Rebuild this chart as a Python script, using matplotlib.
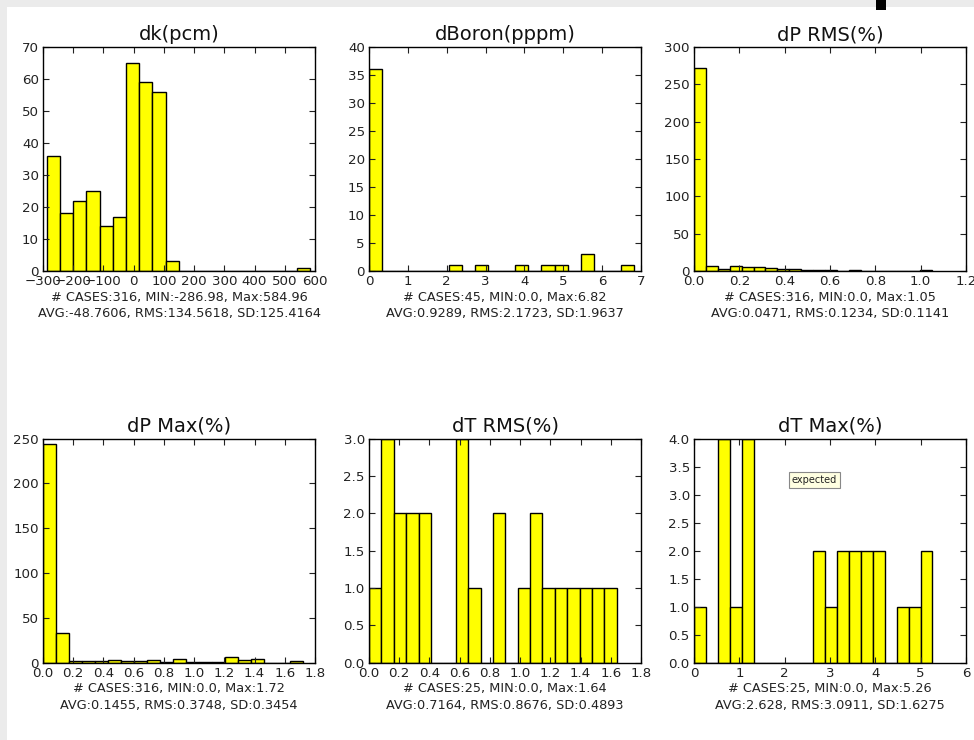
import numpy as np
import matplotlib
matplotlib.use("Agg")
import matplotlib.pyplot as plt
from matplotlib.patches import Rectangle

plt.rcParams['font.family'] = ['DejaVu Sans']

# ---- data (histogram counts, 20 bins between MIN and Max) ----
titles = ["dk(pcm)", "dBoron(pppm)", "dP RMS(%)", "dP Max(%)", "dT RMS(%)", "dT Max(%)"]

dk_counts = [36, 18, 22, 25, 14, 17, 65, 59, 56, 3, 0, 0, 0, 0, 0, 0, 0, 0, 0, 1]
dboron_counts = [36, 0, 0, 0, 0, 0, 1, 0, 1, 0, 0, 1, 0, 1, 1, 0, 3, 0, 0, 1]
dprms_counts = [272, 7, 3, 7, 6, 6, 4, 3, 3, 1, 1, 1, 0, 1, 0, 0, 0, 0, 0, 1]
dpmax_counts = [244, 33, 2, 2, 2, 3, 2, 2, 3, 1, 4, 1, 1, 1, 6, 3, 4, 0, 0, 2]
dtrms_counts = [1, 3, 2, 2, 2, 0, 0, 3, 1, 0, 2, 0, 1, 2, 1, 1, 1, 1, 1, 1]
dtmax_counts = [1, 0, 4, 1, 4, 0, 0, 0, 0, 0, 2, 1, 2, 2, 2, 2, 0, 1, 1, 2]

bin_min = [-286.98, 0.0, 0.0, 0.0, 0.0, 0.0]
bin_max = [584.96, 6.82, 1.05, 1.72, 1.64, 5.26]

footers = [
    "# CASES:316, MIN:-286.98, Max:584.96\nAVG:-48.7606, RMS:134.5618, SD:125.4164",
    "# CASES:45, MIN:0.0, Max:6.82\nAVG:0.9289, RMS:2.1723, SD:1.9637",
    "# CASES:316, MIN:0.0, Max:1.05\nAVG:0.0471, RMS:0.1234, SD:0.1141",
    "# CASES:316, MIN:0.0, Max:1.72\nAVG:0.1455, RMS:0.3748, SD:0.3454",
    "# CASES:25, MIN:0.0, Max:1.64\nAVG:0.7164, RMS:0.8676, SD:0.4893",
    "# CASES:25, MIN:0.0, Max:5.26\nAVG:2.628, RMS:3.0911, SD:1.6275",
]

xlims = [(-300, 600), (0, 7), (0, 1.2), (0, 1.8), (0, 1.8), (0, 6)]
ylims = [(0, 70), (0, 40), (0, 300), (0, 250), (0, 3), (0, 4)]
xtick_sets = [np.arange(-300, 601, 100), np.arange(0, 8, 1), np.arange(0, 1.21, 0.2),
              np.arange(0, 1.81, 0.2), np.arange(0, 1.81, 0.2), np.arange(0, 7, 1)]
ytick_sets = [np.arange(0, 71, 10), np.arange(0, 41, 5), np.arange(0, 301, 50),
              np.arange(0, 251, 50), np.arange(0, 3.01, 0.5), np.arange(0, 4.01, 0.5)]

all_counts = [dk_counts, dboron_counts, dprms_counts, dpmax_counts, dtrms_counts, dtmax_counts]

# ---- figure ----
W, H = 974, 740
fig = plt.figure(figsize=(W / 100, H / 100), dpi=100, facecolor='white')

# page decorations (gray strips and small black mark)
fig.patches.append(Rectangle((0, 1 - 7 / H), 1, 7 / H, transform=fig.transFigure,
                             facecolor='#ebebeb', edgecolor='none', zorder=0))
fig.patches.append(Rectangle((0, 0), 7 / W, 1, transform=fig.transFigure,
                             facecolor='#ebebeb', edgecolor='none', zorder=0))
fig.patches.append(Rectangle((876 / W, 1 - 10 / H), 10 / W, 10 / H, transform=fig.transFigure,
                             facecolor='black', edgecolor='none', zorder=1))

lefts = [43, 369, 694]
tops = [47, 438.5]
aw, ah = 272, 224

fs_tick = 9.6
fs_foot = 9.3
fs_title = 14

for i in range(6):
    r, c = divmod(i, 3)
    left = lefts[c] / W
    bottom = (H - tops[r] - ah) / H
    ax = fig.add_axes([left, bottom, aw / W, ah / H])
    edges = np.linspace(bin_min[i], bin_max[i], len(all_counts[i]) + 1)
    ax.bar(edges[:-1], all_counts[i], width=np.diff(edges), align='edge',
           color='#ffff00', edgecolor='black', linewidth=1.0)
    ax.set_xlim(*xlims[i])
    ax.set_ylim(*ylims[i])
    ax.set_xticks(xtick_sets[i])
    ax.set_yticks(ytick_sets[i])
    ax.tick_params(direction='in', top=True, right=True, length=4, width=0.8,
                   labelsize=fs_tick, pad=3, colors='#222222')
    for s in ax.spines.values():
        s.set_linewidth(1.0)
    ax.set_title(titles[i], fontsize=fs_title, pad=5, color='#111111')
    ax.set_xlabel(footers[i], fontsize=fs_foot, linespacing=1.35, labelpad=2, color='#222222')

# tooltip-like label
fig.text(792 / W, 1 - 480 / H, "expected", fontsize=7, va='center', ha='left',
         color='#222222',
         bbox=dict(boxstyle='square,pad=0.3', facecolor='#ffffe1', edgecolor='#888888', linewidth=0.8))

fig.savefig("out.png", dpi=100, facecolor=fig.get_facecolor())
